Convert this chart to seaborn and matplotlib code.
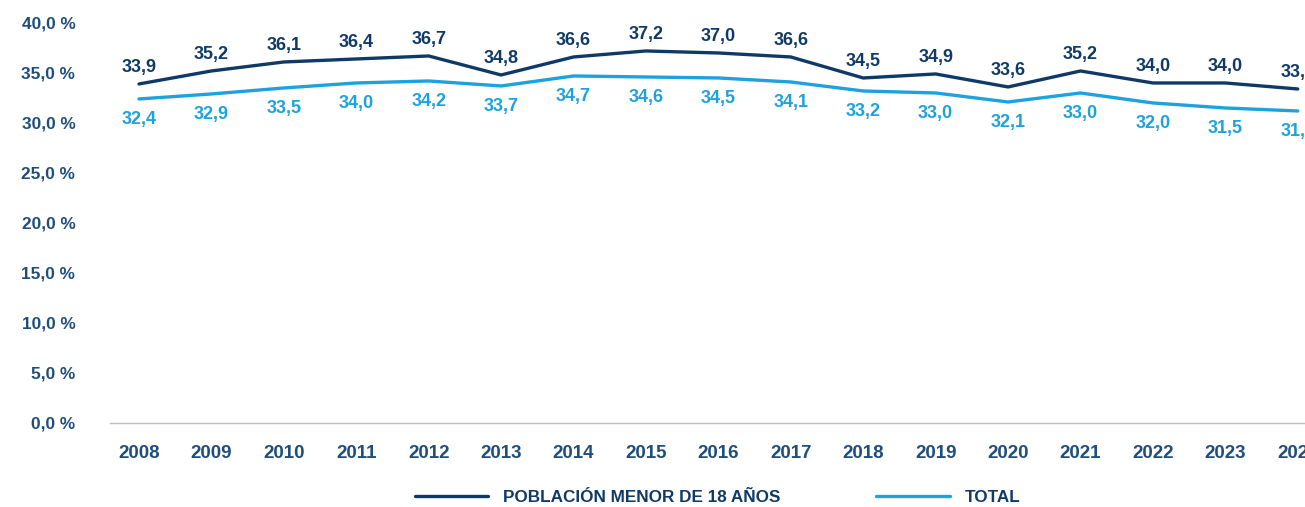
import matplotlib
matplotlib.use("Agg")
import matplotlib.pyplot as plt
import seaborn as sns
import pandas as pd

# data
years = list(range(2008, 2025))
menores = [33.9, 35.2, 36.1, 36.4, 36.7, 34.8, 36.6, 37.2, 37.0, 36.6,
           34.5, 34.9, 33.6, 35.2, 34.0, 34.0, 33.4]
total = [32.4, 32.9, 33.5, 34.0, 34.2, 33.7, 34.7, 34.6, 34.5, 34.1,
         33.2, 33.0, 32.1, 33.0, 32.0, 31.5, 31.2]
series_names = ["POBLACIÓN MENOR DE 18 AÑOS", "TOTAL"]
y_ticks = [0, 5, 10, 15, 20, 25, 30, 35, 40]

dark = "#0f3a68"
light = "#1ea2dd"
axis_text = "#1f4e7d"

df = pd.DataFrame({
    "year": years * 2,
    "value": menores + total,
    "serie": [series_names[0]] * len(years) + [series_names[1]] * len(years),
})

sns.set_style("white")
plt.rcParams["font.family"] = ["Liberation Sans", "DejaVu Sans"]

fig = plt.figure(figsize=(13.05, 5.07), dpi=100)
ax = fig.add_axes([0.0843, 0.1657, 1.0 - 0.0843, 0.789])

sns.lineplot(data=df, x="year", y="value", hue="serie",
             palette={series_names[0]: dark, series_names[1]: light},
             linewidth=2.4, ax=ax, legend=False)

for x, v in zip(years, menores):
    ax.annotate(f"{v:.1f}".replace(".", ","), (x, v), xytext=(0, 12),
                textcoords="offset points", ha="center", va="center",
                fontsize=13, fontweight="bold", color=dark,
                annotation_clip=False)
for x, v in zip(years, total):
    ax.annotate(f"{v:.1f}".replace(".", ","), (x, v), xytext=(0, -15),
                textcoords="offset points", ha="center", va="center",
                fontsize=13, fontweight="bold", color=light,
                annotation_clip=False)

ax.set_ylim(0, 40)
ax.set_xlim(2008 - 0.4, 2024 + 0.1)
ax.set_yticks(y_ticks)
ax.set_yticklabels([f"{t:.1f} %".replace(".", ",") for t in y_ticks])
ax.set_xticks(years)
ax.set_xticklabels([str(y) for y in years])
ax.tick_params(axis="both", length=0, labelcolor=axis_text)
ax.tick_params(axis="y", pad=25, labelsize=12.4)
ax.tick_params(axis="x", pad=16, labelsize=13.5)
for lab in ax.get_xticklabels() + ax.get_yticklabels():
    lab.set_fontweight("bold")
for side in ["top", "right", "left"]:
    ax.spines[side].set_visible(False)
ax.spines["bottom"].set_color("#bfbfbf")
ax.spines["bottom"].set_linewidth(1)
ax.set_xlabel("")
ax.set_ylabel("")

handles = [plt.Line2D([], [], color=dark, lw=2.4),
           plt.Line2D([], [], color=light, lw=2.4)]
leg = fig.legend(handles, series_names, loc="center", bbox_to_anchor=(0.55, 0.018),
                 ncol=2, frameon=False, handlelength=4.3, columnspacing=5.6,
                 handletextpad=0.9,
                 prop={"size": 12.3, "weight": "bold"})
for t in leg.get_texts():
    t.set_color(dark)

fig.savefig("out.png", dpi=100)
